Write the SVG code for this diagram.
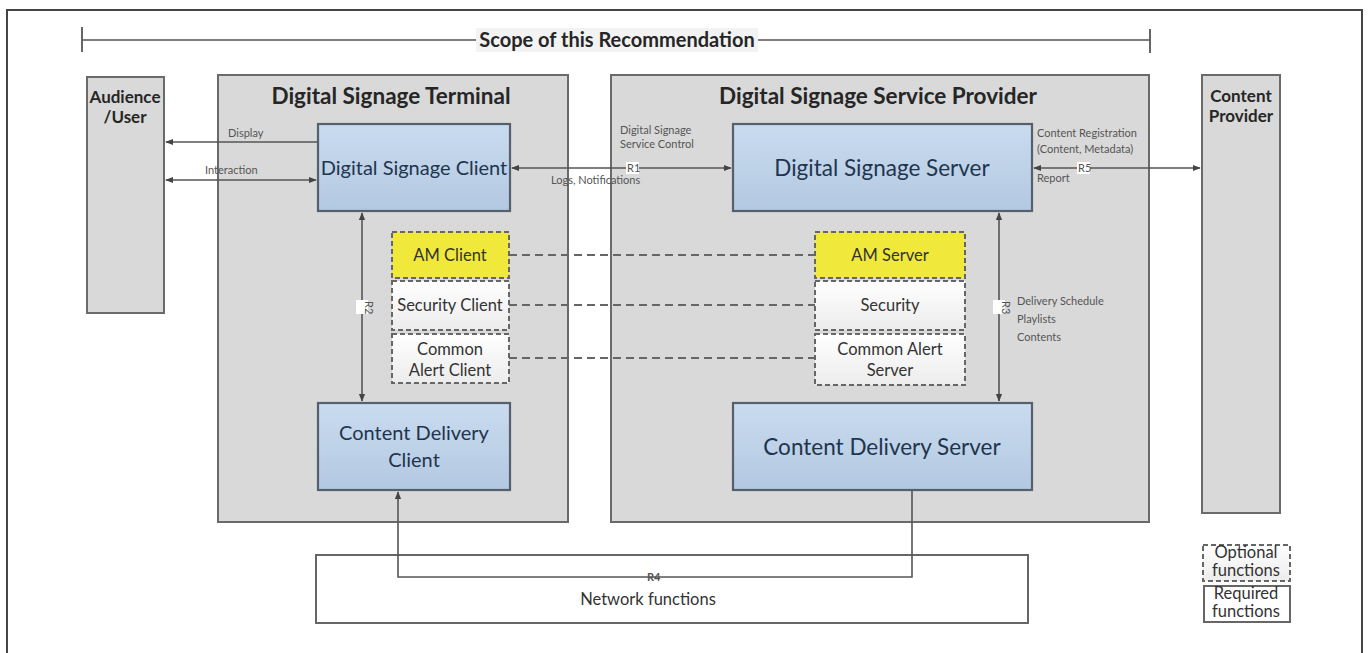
<svg xmlns="http://www.w3.org/2000/svg" width="1370" height="653" viewBox="0 0 1370 653">
  <defs>
    <linearGradient id="blueFill" x1="0" y1="0" x2="0" y2="1">
      <stop offset="0" stop-color="#c9dbef"/>
      <stop offset="1" stop-color="#b3c9e1"/>
    </linearGradient>
    <linearGradient id="optFill" x1="0" y1="0" x2="0" y2="1">
      <stop offset="0" stop-color="#ffffff"/>
      <stop offset="1" stop-color="#ececec"/>
    </linearGradient>
    <marker id="arr" viewBox="0 0 10 10" refX="9" refY="5" markerWidth="5" markerHeight="5" orient="auto-start-reverse">
      <path d="M0,1 L10,5 L0,9 z" fill="#444"/>
    </marker>
  </defs>
  <style>
    .frame { fill: #fff; stroke: #444; stroke-width: 2; }
    .grey { fill: #d9d9d9; stroke: #6a6a6a; stroke-width: 2; }
    .blue { fill: url(#blueFill); stroke: #55606c; stroke-width: 2.2; }
    .opt { fill: url(#optFill); stroke: #666; stroke-width: 2; stroke-dasharray: 5 3; }
    .yellow { fill: #f0e83a; stroke: #666; stroke-width: 2; stroke-dasharray: 5 3; }
    .req { fill: #fff; stroke: #666; stroke-width: 2; }
    .conn { fill: none; stroke: #555; stroke-width: 1.6; }
    .dash { fill: none; stroke: #666; stroke-width: 1.8; stroke-dasharray: 8 5; }
    .title { font-family: Lato, "Liberation Sans", sans-serif; font-weight: bold; fill: #262626; text-anchor: middle; }
    .main { font-family: Lato, "Liberation Sans", sans-serif; fill: #1f354f; text-anchor: middle; }
    .sub { font-family: Lato, "Liberation Sans", sans-serif; fill: #333; text-anchor: middle; font-size: 16.5px; }
    .lbl { font-family: Lato, "Liberation Sans", sans-serif; fill: #555; font-size: 11px; }
  </style>

  <!-- page frame -->
  <rect class="frame" x="7" y="10" width="1355" height="660"/>

  <!-- scope bracket -->
  <g id="scope">
    <line x1="82" y1="40" x2="1150" y2="40" stroke="#555" stroke-width="1.6"/>
    <line x1="82" y1="27" x2="82" y2="52" stroke="#555" stroke-width="1.8"/>
    <line x1="1150" y1="29" x2="1150" y2="53" stroke="#555" stroke-width="1.8"/>
    <rect x="476" y="28" width="282" height="24" fill="#f3f3f3"/>
    <text class="title" x="617" y="47" font-size="20">Scope of this Recommendation</text>
  </g>

  <!-- outer domains -->
  <g id="audience">
    <rect class="grey" x="87" y="77" width="77" height="236"/>
    <text class="title" x="125" y="103" font-size="17">Audience</text>
    <text class="title" x="125" y="123" font-size="17">/User</text>
  </g>
  <g id="terminal">
    <rect class="grey" x="218" y="75" width="350" height="447"/>
    <text class="title" x="391" y="104" font-size="22.5">Digital Signage Terminal</text>
  </g>
  <g id="provider">
    <rect class="grey" x="611" y="75" width="538" height="447"/>
    <text class="title" x="878" y="104" font-size="22.5">Digital Signage Service Provider</text>
  </g>
  <g id="content-provider">
    <rect class="grey" x="1202" y="75" width="78" height="438"/>
    <text class="title" x="1241" y="102" font-size="17">Content</text>
    <text class="title" x="1241" y="122" font-size="17">Provider</text>
  </g>

  <!-- network -->
  <g id="network">
    <rect class="req" x="316" y="555" width="712" height="68" fill="#fafafa"/>
    <text class="sub" x="648" y="605" font-size="14">Network functions</text>
  </g>

  <!-- connectors -->
  <g id="connectors">
    <line class="conn" x1="318" y1="142" x2="166" y2="142" marker-end="url(#arr)"/>
    <line class="conn" x1="166" y1="180" x2="316" y2="180" marker-start="url(#arr)" marker-end="url(#arr)"/>
    <line class="conn" x1="512" y1="168" x2="731" y2="168" marker-start="url(#arr)" marker-end="url(#arr)"/>
    <line class="conn" x1="1034" y1="168" x2="1200" y2="168" marker-start="url(#arr)" marker-end="url(#arr)"/>
    <line class="conn" x1="362" y1="213" x2="362" y2="401" marker-start="url(#arr)" marker-end="url(#arr)"/>
    <line class="conn" x1="999" y1="213" x2="999" y2="401" marker-start="url(#arr)" marker-end="url(#arr)"/>
    <polyline class="conn" points="398,492 398,577 912,577 912,490" marker-start="url(#arr)"/>
    <line class="dash" x1="509" y1="255" x2="815" y2="255"/>
    <line class="dash" x1="509" y1="305" x2="815" y2="305"/>
    <line class="dash" x1="509" y1="358" x2="815" y2="358"/>

    <text class="lbl" x="228" y="137">Display</text>
    <text class="lbl" x="205" y="174">Interaction</text>
    <text class="lbl" x="620" y="134" font-size="9.5">Digital Signage</text>
    <text class="lbl" x="620" y="148" font-size="9.5">Service Control</text>
    <rect x="626" y="162" width="13" height="12" fill="#fff"/>
    <text class="lbl" x="627" y="172" font-size="9.5">R1</text>
    <text class="lbl" x="551" y="184">Logs, Notifications</text>
    <text class="lbl" x="1037" y="137">Content Registration</text>
    <text class="lbl" x="1037" y="153">(Content, Metadata)</text>
    <rect x="1077" y="162" width="13" height="12" fill="#fff"/>
    <text class="lbl" x="1078" y="172" font-size="9.5">R5</text>
    <text class="lbl" x="1037" y="182">Report</text>
    <rect x="356" y="300" width="12" height="14" fill="#fff"/>
    <text class="lbl" font-size="8" transform="translate(365,301) rotate(90)">R2</text>
    <rect x="993" y="300" width="12" height="14" fill="#fff"/>
    <text class="lbl" font-size="8" transform="translate(1002,301) rotate(90)">R3</text>
    <text class="lbl" x="1017" y="305">Delivery Schedule</text>
    <text class="lbl" x="1017" y="323">Playlists</text>
    <text class="lbl" x="1017" y="341">Contents</text>
    <text class="lbl" x="647" y="581" fill="#333" font-size="10" font-weight="bold">R4</text>
  </g>

  <!-- terminal functions -->
  <g id="ds-client">
    <rect class="blue" x="318" y="124" width="192" height="87"/>
    <text class="main" x="414" y="175" font-size="20">Digital Signage Client</text>
  </g>
  <g id="am-client">
    <rect class="yellow" x="392" y="232" width="117" height="46"/>
    <text class="sub" x="450" y="261">AM Client</text>
  </g>
  <g id="security-client">
    <rect class="opt" x="392" y="281" width="117" height="49"/>
    <text class="sub" x="450" y="311">Security Client</text>
  </g>
  <g id="alert-client">
    <rect class="opt" x="392" y="334" width="117" height="49"/>
    <text class="sub" x="450" y="355">Common</text>
    <text class="sub" x="450" y="376">Alert Client</text>
  </g>
  <g id="cd-client">
    <rect class="blue" x="318" y="403" width="192" height="87"/>
    <text class="main" x="414" y="440" font-size="20">Content Delivery</text>
    <text class="main" x="414" y="467" font-size="20">Client</text>
  </g>

  <!-- service provider functions -->
  <g id="ds-server">
    <rect class="blue" x="733" y="124" width="299" height="87"/>
    <text class="main" x="882" y="176" font-size="22.5">Digital Signage Server</text>
  </g>
  <g id="am-server">
    <rect class="yellow" x="815" y="232" width="150" height="46"/>
    <text class="sub" x="890" y="261">AM Server</text>
  </g>
  <g id="security">
    <rect class="opt" x="815" y="281" width="150" height="49"/>
    <text class="sub" x="890" y="311">Security</text>
  </g>
  <g id="alert-server">
    <rect class="opt" x="815" y="334" width="150" height="51"/>
    <text class="sub" x="890" y="355">Common Alert</text>
    <text class="sub" x="890" y="376">Server</text>
  </g>
  <g id="cd-server">
    <rect class="blue" x="733" y="403" width="299" height="87"/>
    <text class="main" x="882" y="455" font-size="22.5">Content Delivery Server</text>
  </g>

  <!-- legend -->
  <g id="legend-optional">
    <rect class="opt" x="1203" y="545" width="87" height="36" fill="#fff"/>
    <text class="sub" x="1246" y="558" font-size="12">Optional</text>
    <text class="sub" x="1246" y="576" font-size="12">functions</text>
  </g>
  <g id="legend-required">
    <rect class="req" x="1204" y="586" width="86" height="36"/>
    <text class="sub" x="1246" y="599" font-size="12">Required</text>
    <text class="sub" x="1246" y="617" font-size="12">functions</text>
  </g>
</svg>
